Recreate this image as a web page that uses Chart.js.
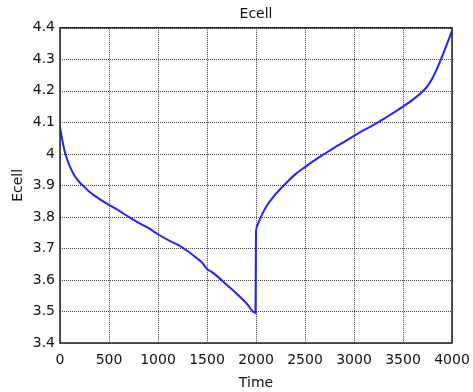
<!DOCTYPE html>
<html>
<head>
<meta charset="utf-8">
<script src="https://cdn.jsdelivr.net/npm/chart.js@4"></script>
<style>
  body { margin: 0; background: #fff; }
  #wrap { width: 473px; height: 392px; }
</style>
</head>
<body>
<div id="wrap"><canvas id="chart" width="473" height="392"></canvas></div>
<script>
// values
const times = [0, 20, 50, 100, 150, 200, 250, 300, 400, 500, 600, 700, 800, 900, 1000,
  1100, 1200, 1300, 1400, 1450, 1500, 1550, 1600, 1700, 1800, 1900, 1995,
  2000, 2008, 2020, 2050, 2100, 2200, 2300, 2400, 2500, 2600, 2700, 2800, 2900,
  3000, 3100, 3200, 3300, 3400, 3500, 3600, 3700, 3750, 3800, 3850, 3900, 3950, 4000];
const ecell = [4.085, 4.05, 4.005, 3.96, 3.93, 3.91, 3.895, 3.88, 3.857, 3.838, 3.82, 3.8, 3.782, 3.765, 3.745,
  3.727, 3.712, 3.692, 3.668, 3.655, 3.635, 3.625, 3.613, 3.585, 3.557, 3.527, 3.495,
  3.75, 3.768, 3.778, 3.8, 3.83, 3.872, 3.905, 3.935, 3.958, 3.98, 4.0, 4.02, 4.038,
  4.057, 4.075, 4.092, 4.11, 4.13, 4.15, 4.172, 4.198, 4.215, 4.24, 4.272, 4.31, 4.35, 4.39];
const xTicks = [0, 500, 1000, 1500, 2000, 2500, 3000, 3500, 4000];
const yTicks = [3.4, 3.5, 3.6, 3.7, 3.8, 3.9, 4, 4.1, 4.2, 4.3, 4.4];

const points = times.map((t, i) => ({ x: t, y: ecell[i] }));
const font = { family: 'DejaVu Sans', size: 14, weight: 'normal' };
const textColor = '#111';

new Chart(document.getElementById('chart'), {
  type: 'scatter',
  data: {
    datasets: [{
      data: points,
      showLine: true,
      borderColor: '#2424f2',
      borderWidth: 2,
      pointRadius: 0,
      cubicInterpolationMode: 'monotone',
    }],
  },
  options: {
    responsive: false,
    animation: false,
    layout: { padding: { left: 0, right: 21, top: 0, bottom: 0 } },
    plugins: {
      legend: { display: false },
      tooltip: { enabled: false },
      title: {
        display: true,
        text: 'Ecell',
        color: textColor,
        font: font,
        fullSize: false,
        padding: { top: 6, bottom: 5 },
      },
    },
    scales: {
      x: {
        type: 'linear',
        min: 0,
        max: 4000,
        afterBuildTicks: (scale) => { scale.ticks = xTicks.map(v => ({ value: v })); },
        ticks: { color: textColor, font: font, padding: 9, maxRotation: 0, callback: (v) => String(v) },
        grid: { display: false, drawTicks: false },
        border: { display: false },
        title: { display: true, text: 'Time', color: textColor, font: font, padding: { top: 0, bottom: 0 } },
        afterFit: (scale) => {
          scale.height = 49;
          scale.paddingLeft = 0;
          scale.paddingRight = 0;
        },
      },
      y: {
        type: 'linear',
        min: 3.4,
        max: 4.4,
        afterBuildTicks: (scale) => { scale.ticks = yTicks.map(v => ({ value: v })); },
        ticks: { color: textColor, font: font, padding: 5, callback: (v) => String(Math.round(v * 10) / 10) },
        grid: { display: false, drawTicks: false },
        border: { display: false },
        title: { display: true, text: 'Ecell', color: textColor, font: font, padding: { top: 10, bottom: 0 } },
        afterFit: (scale) => { scale.width = 60; },
      },
    },
  },
  plugins: [{
    id: 'dottedGrid',
    // dotted grid under the line, solid box on top
    beforeDatasetsDraw(chart) {
      const { ctx, chartArea: a, scales } = chart;
      ctx.save();
      ctx.strokeStyle = '#444';
      ctx.lineWidth = 1;
      ctx.setLineDash([1, 1]);
      xTicks.forEach(v => {
        const px = Math.round(scales.x.getPixelForValue(v)) + 0.5;
        ctx.beginPath();
        ctx.moveTo(px, a.top);
        ctx.lineTo(px, a.bottom);
        ctx.stroke();
      });
      yTicks.forEach(v => {
        const py = Math.round(scales.y.getPixelForValue(v)) + 0.5;
        ctx.beginPath();
        ctx.moveTo(a.left, py);
        ctx.lineTo(a.right, py);
        ctx.stroke();
      });
      ctx.restore();
    },
    afterDatasetsDraw(chart) {
      const { ctx, chartArea: a } = chart;
      ctx.save();
      ctx.strokeStyle = '#222';
      ctx.lineWidth = 1.5;
      ctx.strokeRect(a.left, a.top, a.right - a.left, a.bottom - a.top);
      ctx.restore();
    },
  }],
});
</script>
</body>
</html>
